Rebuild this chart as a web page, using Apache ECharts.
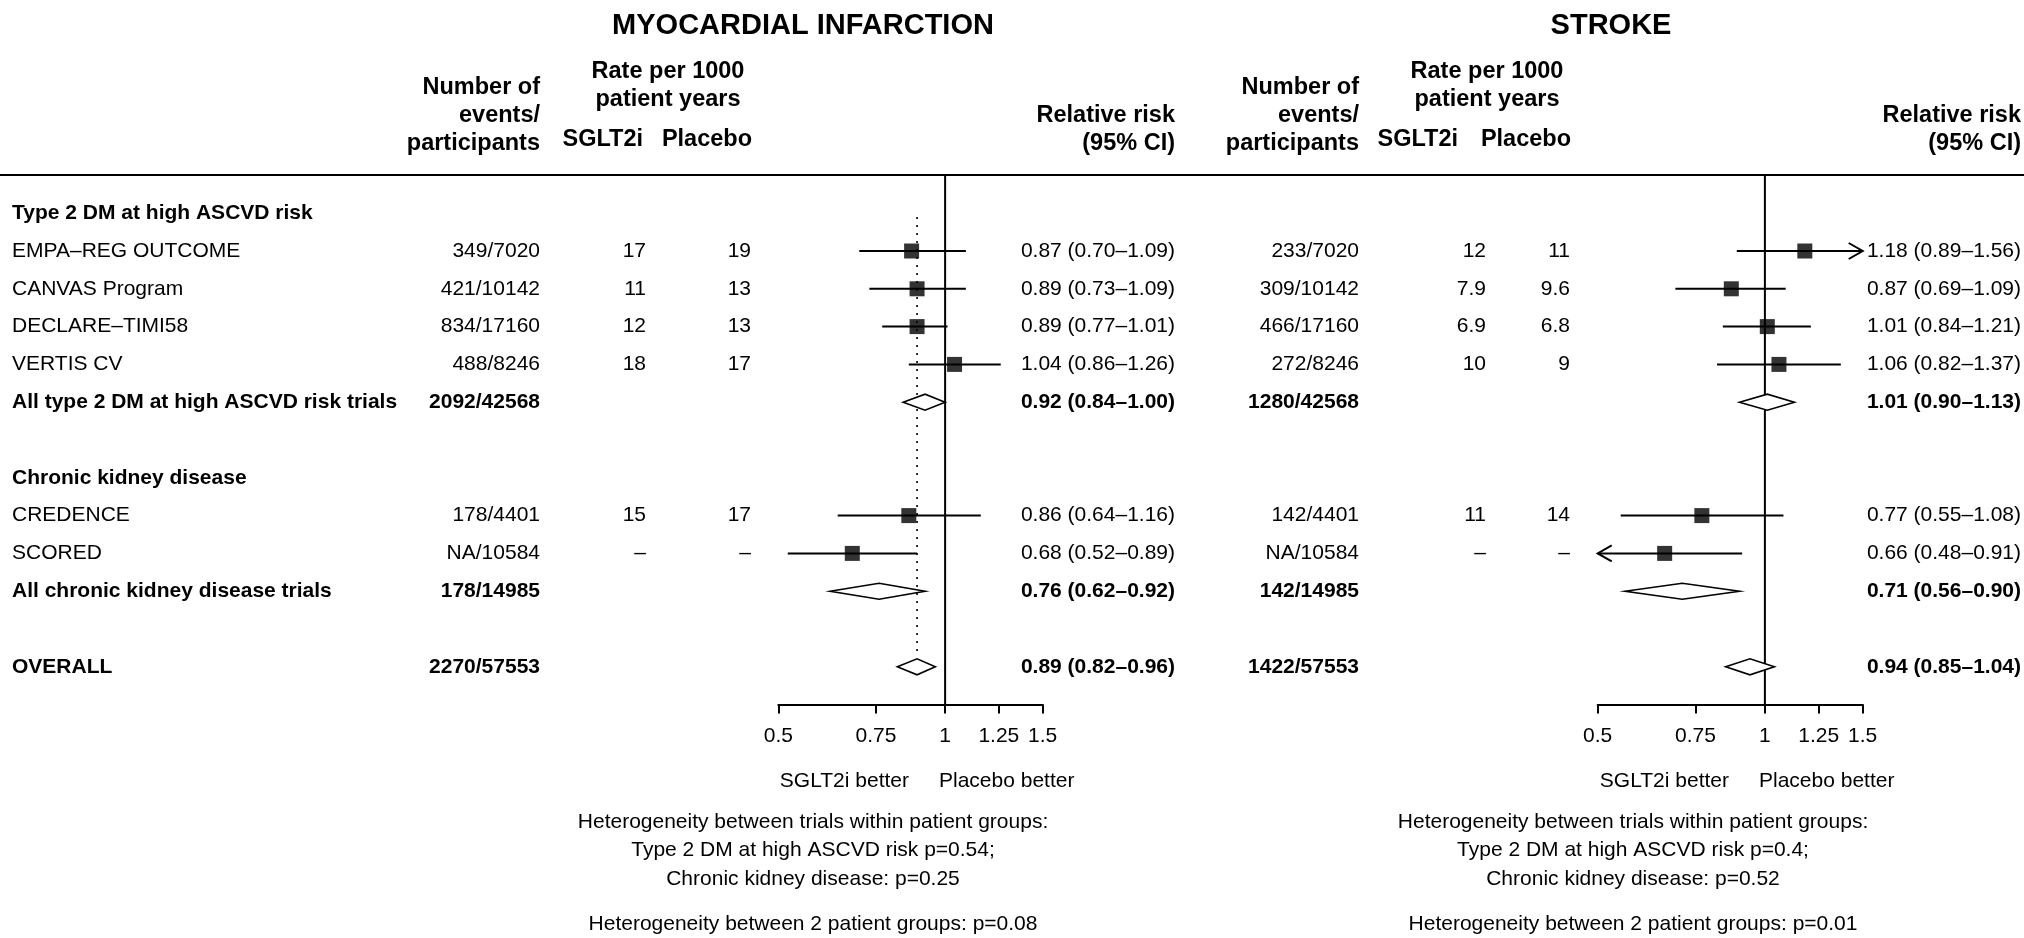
<!DOCTYPE html>
<html>
<head>
<meta charset="utf-8">
<script src="https://cdn.jsdelivr.net/npm/echarts@6/dist/echarts.min.js"></script>
<style>html,body{margin:0;padding:0;background:#fff}#c{width:2024px;height:938px}</style>
</head>
<body>
<div id="c"></div>
<script>
const FONT = "'Liberation Sans', Arial, Helvetica, sans-serif";

// ---------- data ----------
const rowLabels = ['Type 2 DM at high ASCVD risk', 'EMPA–REG OUTCOME', 'CANVAS Program', 'DECLARE–TIMI58', 'VERTIS CV',
  'All type 2 DM at high ASCVD risk trials', '', 'Chronic kidney disease', 'CREDENCE', 'SCORED',
  'All chronic kidney disease trials', '', 'OVERALL'];
const rowKind = ['group', 'study', 'study', 'study', 'study', 'summary', 'blank', 'group', 'study', 'study', 'summary', 'blank', 'summary'];

const miEvents = ['', '349/7020', '421/10142', '834/17160', '488/8246', '2092/42568', '', '', '178/4401', 'NA/10584', '178/14985', '', '2270/57553'];
const miRateSglt2 = ['', '17', '11', '12', '18', '', '', '', '15', '–', '', '', ''];
const miRatePlacebo = ['', '19', '13', '13', '17', '', '', '', '17', '–', '', '', ''];
const miRR = [null, 0.87, 0.89, 0.89, 1.04, 0.92, null, null, 0.86, 0.68, 0.76, null, 0.89];
const miLower = [null, 0.70, 0.73, 0.77, 0.86, 0.84, null, null, 0.64, 0.52, 0.62, null, 0.82];
const miUpper = [null, 1.09, 1.09, 1.01, 1.26, 1.00, null, null, 1.16, 0.89, 0.92, null, 0.96];

const stEvents = ['', '233/7020', '309/10142', '466/17160', '272/8246', '1280/42568', '', '', '142/4401', 'NA/10584', '142/14985', '', '1422/57553'];
const stRateSglt2 = ['', '12', '7.9', '6.9', '10', '', '', '', '11', '–', '', '', ''];
const stRatePlacebo = ['', '11', '9.6', '6.8', '9', '', '', '', '14', '–', '', '', ''];
const stRR = [null, 1.18, 0.87, 1.01, 1.06, 1.01, null, null, 0.77, 0.66, 0.71, null, 0.94];
const stLower = [null, 0.89, 0.69, 0.84, 0.82, 0.90, null, null, 0.55, 0.48, 0.56, null, 0.85];
const stUpper = [null, 1.56, 1.09, 1.21, 1.37, 1.13, null, null, 1.08, 0.91, 0.90, null, 1.04];

const axisTicks = [0.5, 0.75, 1, 1.25, 1.5];
const panelTitles = ['MYOCARDIAL INFARCTION', 'STROKE'];
const headNumber = ['Number of', 'events/', 'participants'];
const headRate = ['Rate per 1000', 'patient years'];
const headArms = ['SGLT2i', 'Placebo'];
const headRR = ['Relative risk', '(95% CI)'];
const sideLabels = ['SGLT2i better', 'Placebo better'];
const heteroMI = ['Heterogeneity between trials within patient groups:', 'Type 2 DM at high ASCVD risk p=0.54;', 'Chronic kidney disease: p=0.25', 'Heterogeneity between 2 patient groups: p=0.08'];
const heteroST = ['Heterogeneity between trials within patient groups:', 'Type 2 DM at high ASCVD risk p=0.4;', 'Chronic kidney disease: p=0.52', 'Heterogeneity between 2 patient groups: p=0.01'];

// ---------- layout ----------
const X_MIN = axisTicks[0], X_MAX = axisTicks[axisTicks.length - 1];
const panels = [
  { events: miEvents, s: miRateSglt2, p: miRatePlacebo, rr: miRR, lo: miLower, hi: miUpper,
    gridLeft: 778.3, gridWidth: 264.4, colEvents: 540, colS: 646, colP: 751, colRR: 1175,
    hS: 643, hP: 752, rateC: 668, title: 803, het: 813, better: [909, 939], showLabels: true, refDotted: true, hetero: heteroMI },
  { events: stEvents, s: stRateSglt2, p: stRatePlacebo, rr: stRR, lo: stLower, hi: stUpper,
    gridLeft: 1597.7, gridWidth: 265, colEvents: 1359, colS: 1486, colP: 1570, colRR: 2021,
    hS: 1458, hP: 1571, rateC: 1487, title: 1611, het: 1633, better: [1729, 1759], showLabels: false, refDotted: false, hetero: heteroST }
];
const GRID_TOP = 175.4, GRID_H = 529.2;

function txt(x, y, text, font, align) {
  return { type: 'text', x: x, y: y, silent: true,
    style: { text: text, font: font, fill: '#000', textAlign: align, align: align, textVerticalAlign: 'middle', verticalAlign: 'middle' } };
}
function fmtRR(r, l, h) { return r.toFixed(2) + ' (' + l.toFixed(2) + '–' + h.toFixed(2) + ')'; }

const grids = [], xAxes = [], yAxes = [], series = [], graphics = [];

graphics.push({ type: 'line', silent: true, shape: { x1: 0, y1: 175, x2: 2024, y2: 175 }, style: { stroke: '#000', lineWidth: 2 } });

panels.forEach((d, k) => {
  grids.push({ left: d.gridLeft, top: GRID_TOP, width: d.gridWidth, height: GRID_H, outerBoundsMode: 'none', containLabel: false });
  xAxes.push({
    type: 'log', gridIndex: k, min: X_MIN, max: X_MAX,
    axisLine: { show: true, onZero: false, lineStyle: { color: '#000', width: 2 } },
    axisTick: { show: true, customValues: axisTicks, length: 9, inside: false, lineStyle: { color: '#000', width: 2 } },
    axisLabel: { show: true, customValues: axisTicks, formatter: v => String(Math.round(v * 100) / 100),
      color: '#000', fontSize: 21, fontFamily: FONT, margin: 21, hideOverlap: false },
    splitLine: { show: false }, minorTick: { show: false }, minorSplitLine: { show: false }
  });
  yAxes.push({ type: 'value', gridIndex: k, min: -1, max: rowLabels.length, inverse: true, show: false });

  const studyData = [], sumData = [];
  d.rr.forEach((v, i) => {
    if (v == null) return;
    const item = [v, d.lo[i], d.hi[i], i];
    if (rowKind[i] === 'study') studyData.push(item); else sumData.push(item);
  });
  const overall = d.rr[rowLabels.length - 1];

  // reference line at RR = 1
  series.push({ type: 'line', xAxisIndex: k, yAxisIndex: k, data: [[1, -1], [1, rowLabels.length]],
    symbol: 'none', silent: true, z: 2, lineStyle: { color: '#000', width: 2 }, animation: false });
  // dotted line at overall estimate
  if (d.refDotted) {
    series.push({ type: 'line', xAxisIndex: k, yAxisIndex: k, data: [[overall, 0.1], [overall, 11.7]],
      symbol: 'none', silent: true, z: 1, lineStyle: { color: '#000', width: 1.6, type: [2, 6] }, animation: false });
  }
  // confidence intervals with arrows when clipped
  series.push({ type: 'custom', xAxisIndex: k, yAxisIndex: k, data: studyData, encode: { x: [0, 1, 2], y: 3 },
    clip: false, silent: true, z: 3,
    renderItem: (params, api) => {
      const lo = api.value(1), hi = api.value(2), row = api.value(3);
      const a = api.coord([Math.max(lo, X_MIN), row]);
      const b = api.coord([Math.min(hi, X_MAX), row]);
      const kids = [{ type: 'line', shape: { x1: a[0], y1: a[1], x2: b[0], y2: b[1] }, style: { stroke: '#000', lineWidth: 2 } }];
      if (hi > X_MAX) kids.push({ type: 'polyline', shape: { points: [[b[0] - 14, b[1] - 8], [b[0], b[1]], [b[0] - 14, b[1] + 8]] }, style: { stroke: '#000', fill: null, lineWidth: 2 } });
      if (lo < X_MIN) kids.push({ type: 'polyline', shape: { points: [[a[0] + 14, a[1] - 8], [a[0], a[1]], [a[0] + 14, a[1] + 8]] }, style: { stroke: '#000', fill: null, lineWidth: 2 } });
      return { type: 'group', children: kids };
    } });
  // point estimates
  series.push({ type: 'scatter', xAxisIndex: k, yAxisIndex: k, data: studyData.map(r => [r[0], r[3]]),
    symbol: 'rect', symbolSize: 15, itemStyle: { color: '#000' }, silent: true, z: 4, animation: false });
  // summary diamonds
  series.push({ type: 'custom', xAxisIndex: k, yAxisIndex: k, data: sumData, encode: { x: [0, 1, 2], y: 3 },
    clip: false, silent: true, z: 4,
    renderItem: (params, api) => {
      const r = api.value(0), lo = api.value(1), hi = api.value(2), row = api.value(3);
      const c = api.coord([r, row]), a = api.coord([lo, row]), b = api.coord([hi, row]);
      return { type: 'polygon', shape: { points: [[a[0], a[1]], [c[0], c[1] - 8], [b[0], b[1]], [c[0], c[1] + 8]] },
        style: { fill: '#fff', stroke: '#000', lineWidth: 1.6 } };
    } });
  // table text
  series.push({ type: 'custom', xAxisIndex: k, yAxisIndex: k, data: rowLabels.map((_, i) => [1, i]), encode: { x: 0, y: 1 },
    clip: false, silent: true, z: 5,
    renderItem: (params, api) => {
      const i = params.dataIndex;
      const y = api.coord([1, i])[1];
      const bold = rowKind[i] === 'group' || rowKind[i] === 'summary';
      const f = (bold ? 'bold ' : '') + '21px ' + FONT;
      const kids = [];
      if (d.showLabels && rowLabels[i]) kids.push(txt(12, y, rowLabels[i], f, 'left'));
      if (d.events[i]) kids.push(txt(d.colEvents, y, d.events[i], f, 'right'));
      if (d.s[i]) kids.push(txt(d.colS, y, d.s[i], f, 'right'));
      if (d.p[i]) kids.push(txt(d.colP, y, d.p[i], f, 'right'));
      if (d.rr[i] != null) kids.push(txt(d.colRR, y, fmtRR(d.rr[i], d.lo[i], d.hi[i]), f, 'right'));
      return { type: 'group', children: kids };
    } });

  // headers
  const hb = 'bold 23.5px ' + FONT;
  graphics.push(txt(d.title, 25.5, panelTitles[k], 'bold 29px ' + FONT, 'center'));
  [88, 116, 144].forEach((y, j) => graphics.push(txt(d.colEvents, y, headNumber[j], hb, 'right')));
  [72, 100].forEach((y, j) => graphics.push(txt(d.rateC, y, headRate[j], hb, 'center')));
  graphics.push(txt(d.hS, 140, headArms[0], hb, 'right'));
  graphics.push(txt(d.hP, 140, headArms[1], hb, 'right'));
  [116, 144].forEach((y, j) => graphics.push(txt(d.colRR, y, headRR[j], hb, 'right')));
  // footer
  const rf = '21px ' + FONT;
  graphics.push(txt(d.better[0], 781.5, sideLabels[0], rf, 'right'));
  graphics.push(txt(d.better[1], 781.5, sideLabels[1], rf, 'left'));
  [822, 850.5, 879, 924].forEach((y, j) => graphics.push(txt(d.het, y, d.hetero[j], rf, 'center')));
});

const chart = echarts.init(document.getElementById('c'), null, { renderer: 'canvas', width: 2024, height: 938 });
chart.setOption({
  animation: false,
  backgroundColor: '#fff',
  textStyle: { fontFamily: FONT },
  grid: grids, xAxis: xAxes, yAxis: yAxes, series: series, graphic: graphics
});
</script>
</body>
</html>
